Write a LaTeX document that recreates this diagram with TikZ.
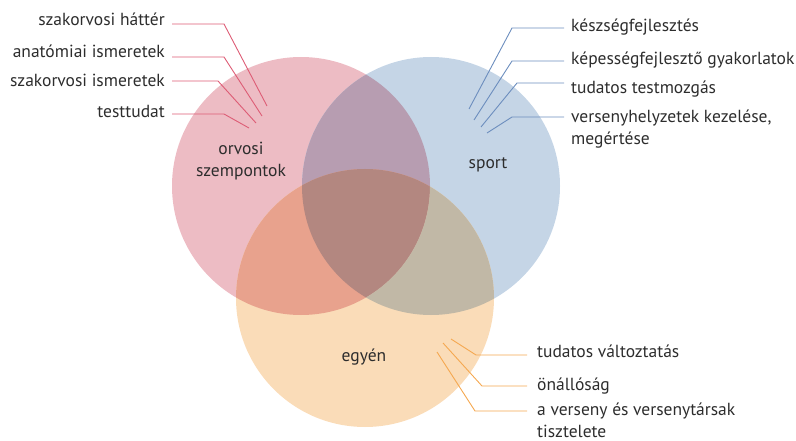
\documentclass[tikz,border=0pt]{standalone}
\usepackage{fontspec}
\setmainfont{PT Sans}
\definecolor{cR}{RGB}{237,188,196}
\definecolor{cB}{RGB}{197,213,230}
\definecolor{cO}{RGB}{250,220,184}
\definecolor{cRB}{RGB}{183,157,177}
\definecolor{cRO}{RGB}{232,162,141}
\definecolor{cBO}{RGB}{193,184,166}
\definecolor{cRBO}{RGB}{179,135,128}
\definecolor{lR}{RGB}{221,92,117}
\definecolor{lB}{RGB}{108,142,190}
\definecolor{lO}{RGB}{245,168,80}
\definecolor{txt}{RGB}{45,45,45}
\begin{document}
\begin{tikzpicture}[x=1pt,y=-1pt,
  lbl/.style={inner sep=0pt, text=txt, font=\fontsize{17.5}{22}\selectfont},
  leadR/.style={draw=lR, line width=0.9pt},
  leadB/.style={draw=lB, line width=0.9pt},
  leadO/.style={draw=lO, line width=0.9pt}]
\useasboundingbox (0,0) rectangle (796,441);
\coordinate (R) at (301,186);
\coordinate (B) at (431,186);
\coordinate (O) at (365,298);
\def\rad{129}
% circles
\fill[cR] (R) circle[radius=\rad];
\fill[cB] (B) circle[radius=\rad];
\fill[cO] (O) circle[radius=\rad];
\begin{scope}
  \clip (R) circle[radius=\rad];
  \fill[cRB] (B) circle[radius=\rad];
  \fill[cRO] (O) circle[radius=\rad];
  \clip (B) circle[radius=\rad];
  \fill[cRBO] (O) circle[radius=\rad];
\end{scope}
\begin{scope}
  \clip (B) circle[radius=\rad];
  \clip (O) circle[radius=\rad];
  \fill[cBO, even odd rule] (R) circle[radius=\rad] (0,0) rectangle (796,441);
\end{scope}
% circle labels
\node[lbl, align=center, anchor=base] (orv) at (241,177) {orvosi\\szempontok};
\node[lbl, anchor=base] (spo) at (488,169) {sport};
\node[lbl, anchor=base] (egy) at (364,361) {egyén};
% left labels
\node[lbl, anchor=base east] (l1) at (165,26) {szakorvosi háttér};
\node[lbl, anchor=base east] (l2) at (165,58) {anatómiai ismeretek};
\node[lbl, anchor=base east] (l3) at (165,87) {szakorvosi ismeretek};
\node[lbl, anchor=base east] (l4) at (165,118) {testtudat};
\coordinate (l1s) at (172,24); \coordinate (l1k) at (224,24); \coordinate (l1e) at (267,106);
\coordinate (l2s) at (172,57); \coordinate (l2k) at (224,57); \coordinate (l2e) at (262,116);
\coordinate (l3s) at (172,81); \coordinate (l3k) at (218,81); \coordinate (l3e) at (256,123);
\coordinate (l4s) at (172,114); \coordinate (l4k) at (224,114); \coordinate (l4e) at (249,128);
\draw[leadR] (l1s) -- (l1k) -- (l1e);
\draw[leadR] (l2s) -- (l2k) -- (l2e);
\draw[leadR] (l3s) -- (l3k) -- (l3e);
\draw[leadR] (l4s) -- (l4k) -- (l4e);
% right labels
\node[lbl, anchor=base west] (r1) at (571,32) {készségfejlesztés};
\node[lbl, anchor=base west] (r2) at (571,65) {képességfejlesztő gyakorlatok};
\node[lbl, anchor=base west] (r3) at (571,94) {tudatos testmozgás};
\node[lbl, anchor=base west, align=left] (r4) at (571,145) {versenyhelyzetek kezelése,\\megértése};
\coordinate (r1s) at (564,28); \coordinate (r1k) at (512,28); \coordinate (r1e) at (469,109);
\coordinate (r2s) at (564,61); \coordinate (r2k) at (512,61); \coordinate (r2e) at (474,120);
\coordinate (r3s) at (564,83); \coordinate (r3k) at (517,83); \coordinate (r3e) at (481,127);
\coordinate (r4s) at (564,117); \coordinate (r4k) at (512,117); \coordinate (r4e) at (487,133);
\draw[leadB] (r1s) -- (r1k) -- (r1e);
\draw[leadB] (r2s) -- (r2k) -- (r2e);
\draw[leadB] (r3s) -- (r3k) -- (r3e);
\draw[leadB] (r4s) -- (r4k) -- (r4e);
% bottom labels
\node[lbl, anchor=base west] (b1) at (537,357) {tudatos változtatás};
\node[lbl, anchor=base west] (b2) at (537,390) {önállóság};
\node[lbl, anchor=base west, align=left] (b3) at (537,437) {a verseny és versenytársak\\tisztelete};
\coordinate (b1s) at (527,355); \coordinate (b1k) at (476,355); \coordinate (b1e) at (451,339);
\coordinate (b2s) at (527,386); \coordinate (b2k) at (482,386); \coordinate (b2e) at (443,343);
\coordinate (b3s) at (527,411); \coordinate (b3k) at (475,411); \coordinate (b3e) at (437,352);
\draw[leadO] (b1s) -- (b1k) -- (b1e);
\draw[leadO] (b2s) -- (b2k) -- (b2e);
\draw[leadO] (b3s) -- (b3k) -- (b3e);
\end{tikzpicture}
\end{document}
